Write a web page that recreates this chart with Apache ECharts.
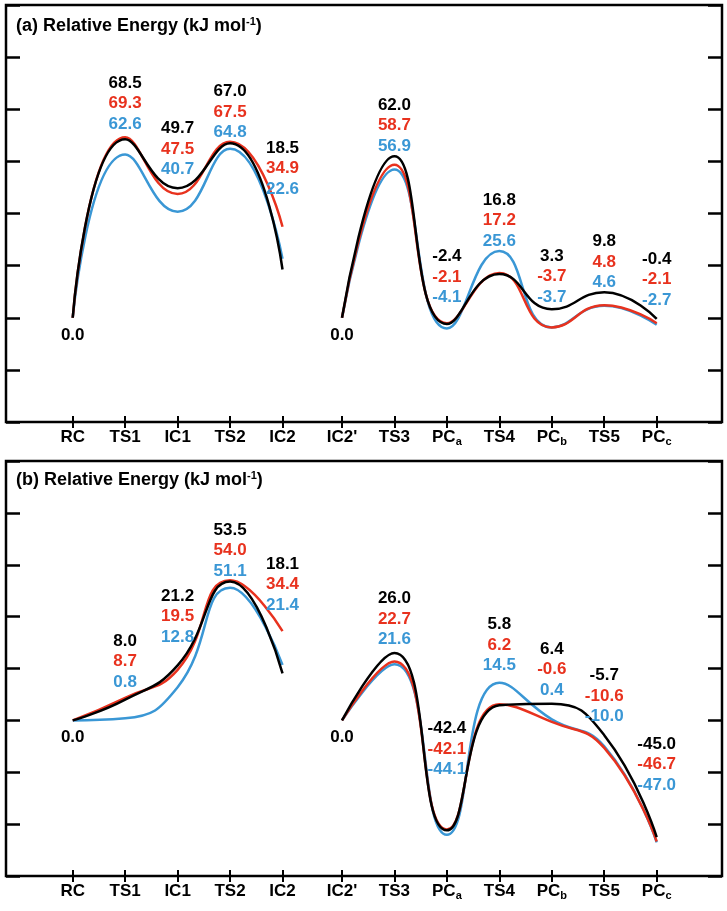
<!DOCTYPE html>
<html><head><meta charset="utf-8">
<script src="https://cdn.jsdelivr.net/npm/echarts@6/dist/echarts.min.js"></script>
<style>html,body{margin:0;padding:0;background:#fff}#c{width:727px;height:911px}</style>
</head><body><div id="c"></div>
<script>
// ---------- data ----------
const categories = ['RC', 'TS1', 'IC1', 'TS2', 'IC2', "IC2'", 'TS3', 'PCa', 'TS4', 'PCb', 'TS5', 'PCc'];
const panelTitles = ['(a) Relative Energy (kJ mol', '(b) Relative Energy (kJ mol'];
// panel (a)
const aBlack = [0.0, 68.5, 49.7, 67.0, 18.5, 0.0, 62.0, -2.4, 16.8, 3.3, 9.8, -0.4];
const aRed   = [0.0, 69.3, 47.5, 67.5, 34.9, 0.0, 58.7, -2.1, 17.2, -3.7, 4.8, -2.1];
const aBlue  = [0.0, 62.6, 40.7, 64.8, 22.6, 0.0, 56.9, -4.1, 25.6, -3.7, 4.6, -2.7];
// panel (b)
const bBlack = [0.0, 8.0, 21.2, 53.5, 18.1, 0.0, 26.0, -42.4, 5.8, 6.4, -5.7, -45.0];
const bRed   = [0.0, 8.7, 19.5, 54.0, 34.4, 0.0, 22.7, -42.1, 6.2, -0.6, -10.6, -46.7];
const bBlue  = [0.0, 0.8, 12.8, 51.1, 21.4, 0.0, 21.6, -44.1, 14.5, 0.4, -10.0, -47.0];
// y axis ranges (kJ/mol), ticks every 20, no tick labels
const aRange = [-40, 120];
const bRange = [-60, 100];
const tickStep = 20;

// ---------- layout / style ----------
const BLACK = '#000000', RED = '#e8321e', BLUE = '#3a97d5';
const FONT = '"Liberation Sans", Arial, Helvetica, sans-serif';
const segmentGap = 0.134;             // extra spacing between IC2 and IC2'
const segStarts = [0, 5];
const xPos = categories.map((c, i) => i + (i >= 5 ? segmentGap : 0));
const xMin = -1.272, xMax = 11 + segmentGap + 1.245;
// distance (px) from highest point to centre of lowest (blue) label line; negative = label below
const aLabelGap = [-17, 12.5, 18, 9, 37, -17, 9.5, 25, 9.5, 11.5, 9, 18];
const bLabelGap = [-16, 15, 28, 9, 25.5, -16, 13, 59.5, 16.5, 13, 18, 51.5];
const LH = 20.5;

const grids = [
  { left: 6, right: 5, top: 5, height: 417 },
  { left: 6, right: 5, top: 461, height: 415 }
];

const panels = [
  { vals: [aBlack, aRed, aBlue], range: aRange, gaps: aLabelGap },
  { vals: [bBlack, bRed, bBlue], range: bRange, gaps: bLabelGap }
];
const colors = [BLACK, RED, BLUE];

function catLabel(v) {
  let idx = 0, best = 1e9;
  xPos.forEach((p, i) => { if (Math.abs(p - v) < best) { best = Math.abs(p - v); idx = i; } });
  const n = categories[idx];
  if (/^PC[abc]$/.test(n)) return '{n|PC}{s|' + n[2] + '}';
  return '{n|' + n + '}';
}

const option = {
  animation: false,
  backgroundColor: '#fff',
  title: panelTitles.map((t, p) => ({
    text: '{t|' + t + '}{s|-1}{t|)}',
    left: 11, top: p === 0 ? 11 : 465,
    textStyle: {
      rich: {
        t: { fontFamily: FONT, fontWeight: 'bold', fontSize: 18, color: '#000', lineHeight: 20 },
        s: { fontFamily: FONT, fontWeight: 'bold', fontSize: 11, color: '#000', lineHeight: 11, verticalAlign: 'top' }
      }
    }
  })),
  grid: grids.map(g => Object.assign({ show: true, borderColor: '#000', borderWidth: 2.5, containLabel: false }, g)),
  xAxis: grids.map((g, p) => ({
    type: 'value', gridIndex: p, min: xMin, max: xMax, offset: -6, position: 'bottom',
    axisLine: { show: false, onZero: false },
    splitLine: { show: false },
    axisTick: { show: true, inside: false, length: 12, lineStyle: { color: '#000', width: 2 }, customValues: xPos },
    axisLabel: {
      show: true, margin: 11, customValues: xPos, formatter: catLabel,
      rich: {
        n: { fontFamily: FONT, fontWeight: 'bold', fontSize: 17, color: '#000', lineHeight: 20 },
        s: { fontFamily: FONT, fontWeight: 'bold', fontSize: 11, color: '#000', lineHeight: 11, verticalAlign: 'bottom' }
      }
    }
  })),
  yAxis: [],
  series: []
};

panels.forEach((pan, p) => {
  ['left', 'right'].forEach(pos => {
    option.yAxis.push({
      type: 'value', gridIndex: p, position: pos, min: pan.range[0], max: pan.range[1], interval: tickStep,
      axisLine: { show: false, onZero: false }, splitLine: { show: false }, axisLabel: { show: false },
      axisTick: { show: true, inside: true, length: 14, lineStyle: { color: '#000', width: 2.5 } }
    });
  });
  const yIdx = p * 2;
  // lines: draw blue, red, then black on top
  [2, 1, 0].forEach(ci => {
    segStarts.forEach((s, k) => {
      const e = k + 1 < segStarts.length ? segStarts[k + 1] : categories.length;
      const data = [];
      for (let i = s; i < e; i++) data.push([xPos[i], pan.vals[ci][i]]);
      option.series.push({
        type: 'line', xAxisIndex: p, yAxisIndex: yIdx, data, smooth: 0.5,
        symbol: 'none', lineStyle: { color: colors[ci], width: 2.5 }, silent: true, z: 3 + (2 - ci)
      });
    });
  });
  // value labels
  const labData = categories.map((c, i) => {
    const v = pan.vals.map(a => a[i]);
    const gap = pan.gaps[i];
    if (gap < 0) {
      return {
        value: [xPos[i], Math.min.apply(null, v)],
        label: { position: 'bottom', distance: -gap - LH / 2, formatter: '{k|' + v[0].toFixed(1) + '}' }
      };
    }
    return {
      value: [xPos[i], Math.max.apply(null, v)],
      label: {
        position: 'top', distance: gap - LH / 2,
        formatter: '{k|' + v[0].toFixed(1) + '}\n{r|' + v[1].toFixed(1) + '}\n{b|' + v[2].toFixed(1) + '}'
      }
    };
  });
  const base = { fontFamily: FONT, fontWeight: 'bold', fontSize: 17, lineHeight: LH };
  option.series.push({
    type: 'scatter', xAxisIndex: p, yAxisIndex: yIdx, data: labData, symbolSize: 1, clip: false,
    itemStyle: { color: 'rgba(0,0,0,0)', opacity: 1 }, silent: true, z: 10,
    label: {
      show: true, align: 'center', opacity: 1,
      rich: {
        k: Object.assign({ color: BLACK }, base),
        r: Object.assign({ color: RED }, base),
        b: Object.assign({ color: BLUE }, base)
      }
    }
  });
});

const chart = echarts.init(document.getElementById('c'), null, { renderer: 'canvas' });
chart.setOption(option);
</script>
</body></html>
